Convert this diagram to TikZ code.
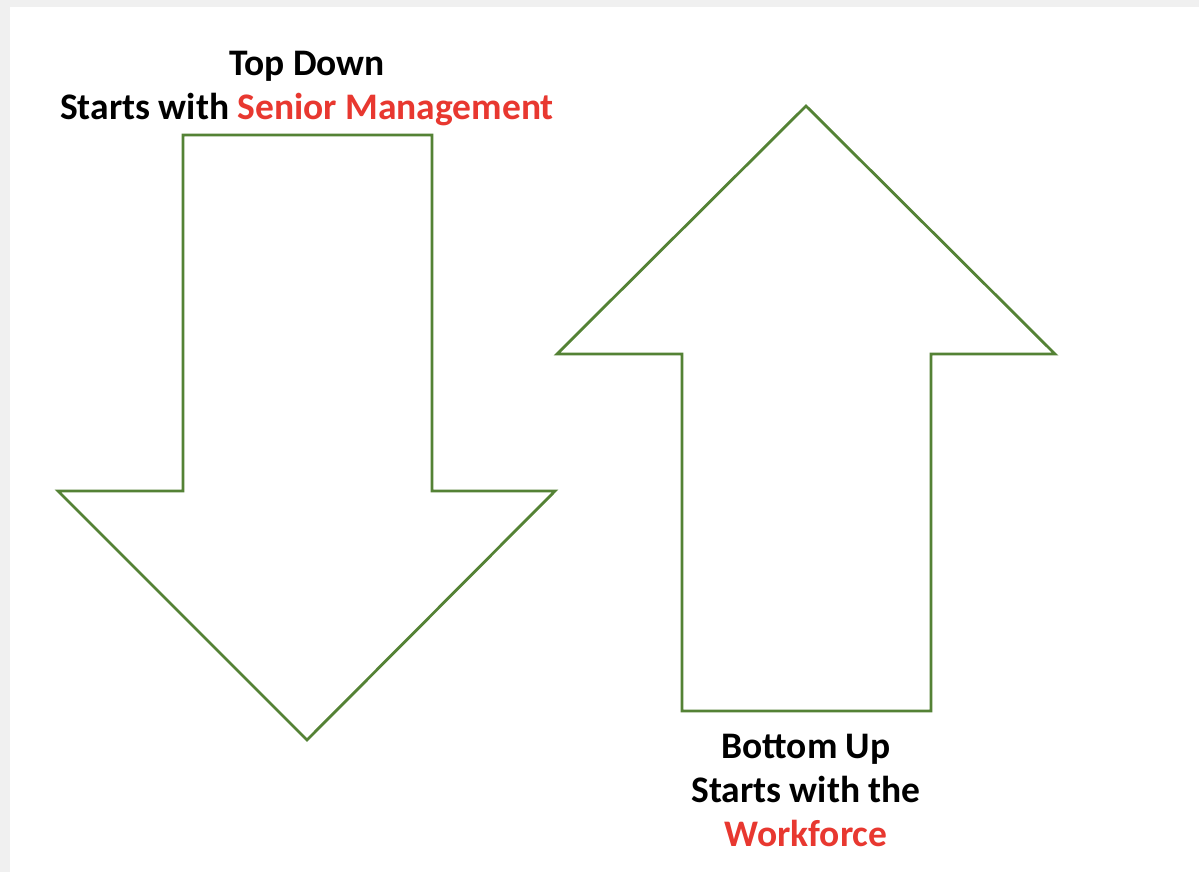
\documentclass[tikz,border=0pt]{standalone}
\usepackage{fontspec}
\setmainfont{Carlito}
\definecolor{shapegreen}{RGB}{84,130,53}
\definecolor{labelred}{RGB}{232,56,48}
\tikzset{
  arrowshape/.style={draw=shapegreen,line width=2.8pt,line join=miter},
  caption/.style={align=center,font=\bfseries\fontsize{37.5}{44}\selectfont,inner sep=0pt}
}
\begin{document}
\begin{tikzpicture}[x=1pt,y=-1pt]
      \useasboundingbox (0,0) rectangle (1199,872);
      \fill[black!6] (0,0) rectangle (1199,872);
      \fill[white] (10,7) rectangle (1199,872);
      \draw
        (307,89) node[caption] (topdown){Top Down\\Starts with \textcolor{labelred}{Senior Management}}
        (806,790) node[caption] (bottomup){Bottom Up\\Starts with the\\\textcolor{labelred}{Workforce}};
      \begin{scope}[arrowshape]
        \draw (183,135) -- (432,135) -- (432,491) -- (555,491) -- (307,740)
          -- (58,491) -- (183,491) -- cycle;
        \draw (682,711) -- (931,711) -- (931,354) -- (1055,354) -- (806,106)
          -- (557,354) -- (682,354) -- cycle;
      \end{scope}
    \end{tikzpicture}
\end{document}
